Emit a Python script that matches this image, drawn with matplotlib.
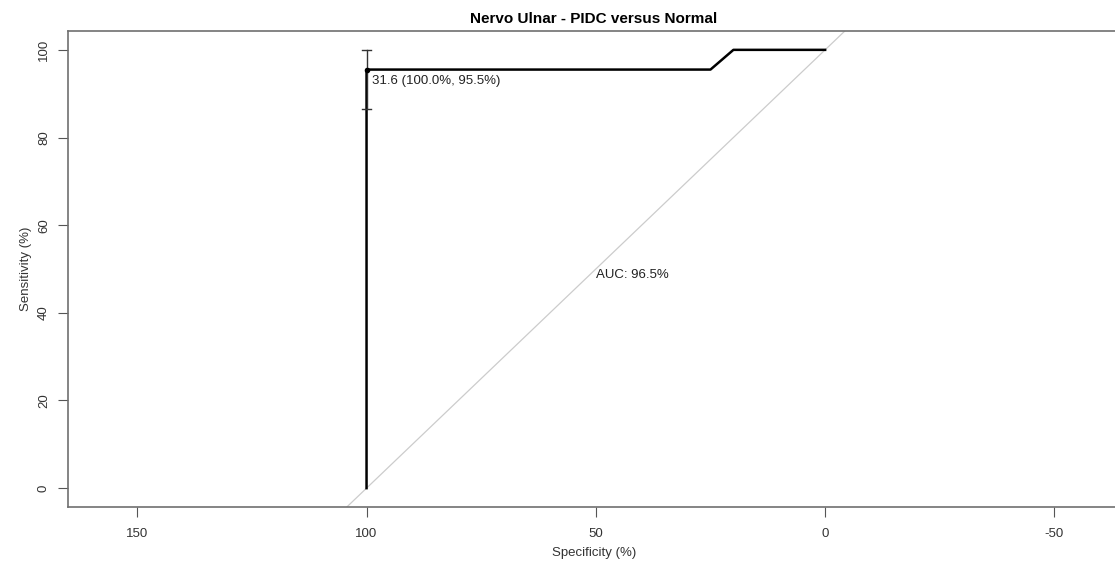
import matplotlib
matplotlib.use("Agg")
from matplotlib import pyplot as plt

plt.rcParams['font.family'] = ['Liberation Sans', 'DejaVu Sans']
plt.rcParams['axes.unicode_minus'] = False

# ROC curve points (specificity %, sensitivity %)
spec = [100, 100, 25, 20, 0]
sens = [0, 95.5, 95.5, 100, 100]
thr_label = "31.6 (100.0%, 95.5%)"
thr_spec = 100
thr_sens = 95.5
thr_ci = [86.4, 100]
auc_text = "AUC: 96.5%"
xticks = [150, 100, 50, 0, -50]
yticks = [0, 20, 40, 60, 80, 100]

fig = plt.figure(figsize=(11.15, 5.62), dpi=100)
ax = fig.add_axes([68/1115, 1 - 507/562, (1120 - 68)/1115, (507 - 31)/562])

ax.plot([-70, 170], [170, -70], color="#cccccc", lw=0.9)
ax.plot(spec, sens, color="black", lw=1.8)
ax.plot([thr_spec, thr_spec], thr_ci, color="#333333", lw=1)
for c in thr_ci:
    ax.plot([thr_spec + 0.9, thr_spec - 0.9], [c, c], color="#333333", lw=1)
ax.plot([thr_spec], [thr_sens], marker="o", ms=3, color="black")
ax.annotate(thr_label, (thr_spec, thr_sens), xytext=(4, -4), textcoords="offset points",
            ha="left", va="top", fontsize=9.5, color="#222222")
ax.text(50, 50, auc_text, ha="left", va="top", fontsize=9.5, color="#222222")

ax.set_xlim(165.1, -64.3)
ax.set_ylim(-4.3, 104.3)
ax.set_xticks(xticks)
ax.set_yticks(yticks)
ax.set_yticklabels([str(v) for v in yticks], rotation=90, va="center")
for s in ax.spines.values():
    s.set_color("#707070")
    s.set_linewidth(1.2)
ax.tick_params(direction="out", length=7, color="#555555", labelcolor="#333333", labelsize=9.5)
ax.tick_params(axis="x", pad=8)
ax.tick_params(axis="y", pad=6)
ax.set_xlabel("Specificity (%)", fontsize=9.5, color="#333333", labelpad=5)
ax.set_ylabel("Sensitivity (%)", fontsize=9.5, color="#333333", labelpad=4)
ax.set_title("Nervo Ulnar - PIDC versus Normal", fontsize=11, fontweight="bold", pad=6)

fig.savefig("out.png", dpi=100)
